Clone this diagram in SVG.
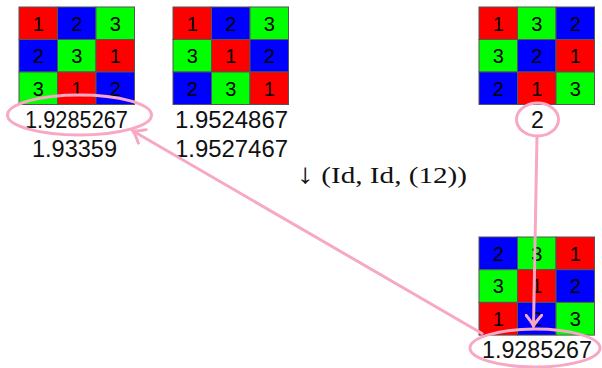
<svg xmlns="http://www.w3.org/2000/svg" width="602" height="368" viewBox="0 0 602 368">
  <style>
    .r { fill: #ff0000; stroke: #555; stroke-width: 1; }
    .g { fill: #00ff00; stroke: #555; stroke-width: 1; }
    .b { fill: #0000ff; stroke: #555; stroke-width: 1; }
    .d { font-family: "Liberation Sans", "DejaVu Sans", sans-serif; font-size: 20px; fill: #000; text-anchor: middle; }
    .num { font-family: "Liberation Sans", "DejaVu Sans", sans-serif; font-size: 23px; fill: #111; }
    .lbl { font-family: "Liberation Serif", "DejaVu Serif", serif; font-size: 24px; fill: #111; }
    .pk { fill: none; stroke: #f7a8c4; stroke-width: 3; stroke-linecap: round; stroke-linejoin: round; }
  </style>
  <defs>
    <marker id="tip" viewBox="-12 -9 14 18" markerWidth="14" markerHeight="18" refX="0" refY="0" orient="auto" markerUnits="userSpaceOnUse">
      <path d="M -11 -8 Q -4 -2 0 0 Q -4 2 -11 8" fill="none" stroke="#f7a8c4" stroke-width="3" stroke-linecap="round"/>
    </marker>
  </defs>

  <!-- grid A -->
  <g id="gridA">
    <rect class="r" x="19" y="7" width="38.5" height="32.5"/>
    <rect class="b" x="57.5" y="7" width="38.5" height="32.5"/>
    <rect class="g" x="96" y="7" width="38.5" height="32.5"/>
    <rect class="b" x="19" y="39.5" width="38.5" height="32.5"/>
    <rect class="g" x="57.5" y="39.5" width="38.5" height="32.5"/>
    <rect class="r" x="96" y="39.5" width="38.5" height="32.5"/>
    <rect class="g" x="19" y="72" width="38.5" height="32.5"/>
    <rect class="r" x="57.5" y="72" width="38.5" height="32.5"/>
    <rect class="b" x="96" y="72" width="38.5" height="32.5"/>
    <text class="d" x="38.2" y="30.5">1</text>
    <text class="d" x="76.7" y="30.5">2</text>
    <text class="d" x="115.2" y="30.5">3</text>
    <text class="d" x="38.2" y="63">2</text>
    <text class="d" x="76.7" y="63">3</text>
    <text class="d" x="115.2" y="63">1</text>
    <text class="d" x="38.2" y="95.5">3</text>
    <text class="d" x="76.7" y="95.5">1</text>
    <text class="d" x="115.2" y="95.5">2</text>
    <text class="num" x="25" y="128" textLength="103" lengthAdjust="spacingAndGlyphs">1.9285267</text>
    <text class="num" x="32" y="157" textLength="85" lengthAdjust="spacingAndGlyphs">1.93359</text>
  </g>

  <!-- grid B -->
  <g id="gridB">
    <rect class="r" x="173" y="7" width="38.5" height="32.5"/>
    <rect class="b" x="211.5" y="7" width="38.5" height="32.5"/>
    <rect class="g" x="250" y="7" width="38.5" height="32.5"/>
    <rect class="g" x="173" y="39.5" width="38.5" height="32.5"/>
    <rect class="r" x="211.5" y="39.5" width="38.5" height="32.5"/>
    <rect class="b" x="250" y="39.5" width="38.5" height="32.5"/>
    <rect class="b" x="173" y="72" width="38.5" height="32.5"/>
    <rect class="g" x="211.5" y="72" width="38.5" height="32.5"/>
    <rect class="r" x="250" y="72" width="38.5" height="32.5"/>
    <text class="d" x="192.2" y="30.5">1</text>
    <text class="d" x="230.7" y="30.5">2</text>
    <text class="d" x="269.2" y="30.5">3</text>
    <text class="d" x="192.2" y="63">3</text>
    <text class="d" x="230.7" y="63">1</text>
    <text class="d" x="269.2" y="63">2</text>
    <text class="d" x="192.2" y="95.5">2</text>
    <text class="d" x="230.7" y="95.5">3</text>
    <text class="d" x="269.2" y="95.5">1</text>
    <text class="num" x="175" y="128" textLength="113" lengthAdjust="spacingAndGlyphs">1.9524867</text>
    <text class="num" x="175" y="157" textLength="113" lengthAdjust="spacingAndGlyphs">1.9527467</text>
  </g>

  <!-- grid C -->
  <g id="gridC">
    <rect class="r" x="479" y="7" width="38.5" height="32.5"/>
    <rect class="g" x="517.5" y="7" width="38.5" height="32.5"/>
    <rect class="b" x="556" y="7" width="38.5" height="32.5"/>
    <rect class="g" x="479" y="39.5" width="38.5" height="32.5"/>
    <rect class="b" x="517.5" y="39.5" width="38.5" height="32.5"/>
    <rect class="r" x="556" y="39.5" width="38.5" height="32.5"/>
    <rect class="b" x="479" y="72" width="38.5" height="32.5"/>
    <rect class="r" x="517.5" y="72" width="38.5" height="32.5"/>
    <rect class="g" x="556" y="72" width="38.5" height="32.5"/>
    <text class="d" x="498.2" y="30.5">1</text>
    <text class="d" x="536.7" y="30.5">3</text>
    <text class="d" x="575.2" y="30.5">2</text>
    <text class="d" x="498.2" y="63">3</text>
    <text class="d" x="536.7" y="63">2</text>
    <text class="d" x="575.2" y="63">1</text>
    <text class="d" x="498.2" y="95.5">2</text>
    <text class="d" x="536.7" y="95.5">1</text>
    <text class="d" x="575.2" y="95.5">3</text>
    <text class="num" x="537.5" y="128" text-anchor="middle">2</text>
  </g>

  <!-- grid D -->
  <g id="gridD">
    <rect class="b" x="479" y="237" width="38.5" height="32.7"/>
    <rect class="g" x="517.5" y="237" width="38.5" height="32.7"/>
    <rect class="r" x="556" y="237" width="38.5" height="32.7"/>
    <rect class="g" x="479" y="269.7" width="38.5" height="32.7"/>
    <rect class="r" x="517.5" y="269.7" width="38.5" height="32.7"/>
    <rect class="b" x="556" y="269.7" width="38.5" height="32.7"/>
    <rect class="r" x="479" y="302.4" width="38.5" height="32.7"/>
    <rect class="b" x="517.5" y="302.4" width="38.5" height="32.7"/>
    <rect class="g" x="556" y="302.4" width="38.5" height="32.7"/>
    <text class="d" x="498.2" y="260.5">2</text>
    <text class="d" x="536.7" y="260.5">3</text>
    <text class="d" x="575.2" y="260.5">1</text>
    <text class="d" x="498.2" y="293.2">3</text>
    <text class="d" x="536.7" y="293.2">1</text>
    <text class="d" x="575.2" y="293.2">2</text>
    <text class="d" x="498.2" y="326">1</text>
    <text class="d" x="536.7" y="326">2</text>
    <text class="d" x="575.2" y="326">3</text>
    <text class="num" x="482" y="358" textLength="110" lengthAdjust="spacingAndGlyphs">1.9285267</text>
  </g>

  <!-- permutation label -->
  <g id="label">
    <text class="lbl" x="297" y="183" textLength="170" lengthAdjust="spacingAndGlyphs"><tspan font-size="28">↓</tspan> (Id, Id, (12))</text>
  </g>

  <!-- connectors and highlight rings -->
  <g id="connectors">
    <ellipse class="pk" cx="79.5" cy="115" rx="72" ry="20"/>
    <ellipse class="pk" cx="537.5" cy="119.5" rx="21" ry="16.5"/>
    <ellipse class="pk" cx="535" cy="348" rx="65" ry="19"/>
    <line class="pk" x1="537" y1="136" x2="533.5" y2="326" marker-end="url(#tip)"/>
    <line class="pk" x1="482" y1="333.5" x2="133" y2="131" marker-end="url(#tip)"/>
  </g>
</svg>
